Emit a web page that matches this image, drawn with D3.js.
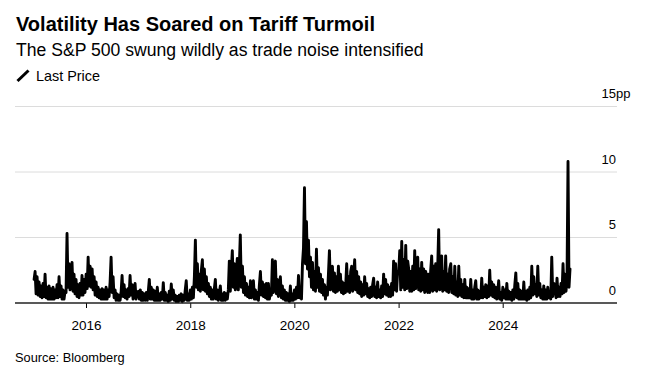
<!DOCTYPE html>
<html>
<head>
<meta charset="utf-8">
<script src="https://cdn.jsdelivr.net/npm/d3@7"></script>
<style>
  html, body { margin: 0; padding: 0; background: #fff; }
  svg { display: block; font-family: "Liberation Sans", Arial, Helvetica, sans-serif; }
</style>
</head>
<body>
<svg id="chart" width="649" height="383"></svg>
<script>
// ---- Data: weekly readings (alternating swings) of S&P 500 volatility, pp ----
const vol2015 = [1.8,2.4,0.7,2.0,0.6,1.6,0.5,1.3,0.4,1.5,0.5,2.2,0.4,1.2,0.3,1.3,0.3,1.1,0.3,1.2,0.3,1.0,0.4,1.4,0.4,2.0,0.5,1.3,0.3,1.0,0.3,0.9,0.8,5.3,1.2,3.0,1.0,2.5,3.1,0.9,2.2,0.7,1.8,0.5,1.4,0.4,1.5,0.6,2.1,0.6,1.8,0.8];
const vol2016 = [2.2,1.1,3.5,1.3,2.8,1.2,2.6,1.0,2.0,0.6,1.6,0.5,1.2,0.4,1.0,0.3,1.1,0.3,1.0,0.3,1.2,0.3,1.0,0.5,1.6,3.5,0.8,2.0,0.4,1.0,0.2,0.7,0.2,0.6,0.2,0.8,2.1,0.5,1.4,0.4,1.0,0.3,1.1,0.5,2.1,0.6,1.4,0.3,1.0,1.5,0.3,0.8];
const vol2017 = [0.9,0.3,1.0,0.2,0.8,0.2,0.7,0.2,0.8,0.2,0.9,1.8,0.3,1.2,0.3,1.0,0.2,0.9,0.2,1.2,0.2,0.7,0.2,0.8,0.3,1.55,0.2,0.8,0.2,0.6,0.1,0.9,0.2,1.45,0.3,1.0,0.2,0.6,0.1,0.5,0.1,0.6,0.2,0.7,0.1,0.6,0.2,1.0,1.7,0.2,0.7,0.2];
const vol2018 = [1.0,0.3,1.2,0.4,2.0,4.8,1.2,3.0,1.0,2.2,0.9,2.5,3.3,1.0,2.6,0.9,2.0,0.7,1.5,0.5,1.2,0.3,1.0,0.3,1.1,1.8,0.3,1.0,0.2,0.8,1.3,0.2,0.7,0.2,0.8,0.2,0.7,0.3,1.0,3.2,0.9,2.5,4.0,1.2,3.0,1.0,2.4,3.4,1.0,2.8,5.2,1.2];
const vol2019 = [2.8,0.8,2.0,0.6,1.5,0.5,1.2,0.4,1.7,0.4,1.2,1.7,0.3,1.0,0.3,0.8,0.2,1.4,2.4,0.6,1.6,0.5,1.4,0.4,1.5,0.3,1.5,0.3,0.8,0.6,3.3,0.8,2.4,3.2,0.7,1.8,0.5,1.2,2.0,0.4,1.3,0.3,1.0,0.2,0.8,0.2,0.7,0.1,1.3,0.2,0.7,0.2];
const vol2020 = [1.0,0.3,1.2,0.4,2.1,0.4,1.0,0.3,3.0,4.2,8.8,3.0,6.2,2.6,4.8,2.0,3.5,1.2,3.1,1.0,2.4,0.9,4.1,1.2,2.7,0.9,2.2,0.8,1.8,0.6,1.4,0.3,1.2,0.6,2.2,4.0,1.0,2.5,2.8,0.9,2.3,0.8,2.0,0.9,2.8,1.0,2.2,0.8,1.6,0.7,1.5,0.8];
const vol2021 = [3.0,0.9,2.0,0.8,2.4,2.8,0.9,2.2,3.3,1.0,2.4,0.8,2.0,0.7,1.6,0.5,1.4,0.6,2.0,0.7,1.5,0.5,1.1,0.4,1.2,0.5,1.4,1.9,0.5,1.2,0.4,1.6,0.5,1.0,0.4,1.3,0.5,2.2,0.7,1.8,0.6,1.4,0.5,1.2,0.5,1.5,0.6,3.2,1.0,3.0,0.9,2.4];
const vol2022 = [2.4,4.0,1.0,4.7,1.2,3.3,1.0,4.4,1.1,3.2,2.6,0.9,2.4,0.9,2.8,1.0,4.0,1.1,3.0,3.5,1.0,2.6,0.9,3.1,1.0,2.6,0.8,2.4,2.0,0.8,2.2,0.8,2.5,3.6,0.9,2.8,1.0,3.0,0.9,2.6,5.6,1.0,3.0,3.6,0.9,2.4,1.0,3.6,0.9,2.2,0.8,2.6];
const vol2023 = [3.0,0.8,2.0,0.7,2.8,0.6,1.6,0.5,2.8,0.6,1.8,0.5,1.4,0.4,1.8,0.4,1.2,0.4,1.1,0.4,1.8,0.3,1.0,0.3,1.2,1.7,0.3,1.0,0.3,0.9,0.4,1.9,0.4,1.2,0.5,1.4,0.4,1.3,0.5,2.5,0.6,1.6,0.5,1.4,0.4,1.2,0.3,0.9,1.7,0.3,0.8,0.2];
const vol2024 = [1.2,0.4,1.0,0.3,1.5,0.3,0.9,0.3,0.8,0.2,1.0,0.3,1.4,2.3,0.4,1.5,0.3,1.0,0.3,0.9,0.3,1.6,0.3,0.9,0.2,1.0,0.3,1.2,0.4,2.8,0.6,2.0,0.7,1.4,0.5,2.8,0.6,1.5,0.4,1.0,0.3,1.3,0.3,1.0,0.3,1.2,0.4,0.9,0.3,3.5,0.5,1.5];
const vol2025 = [1.4,0.4,1.9,0.5,1.2,0.5,1.5,0.7,3.0,0.8,2.2,0.9,1.8,10.8,1.2,2.6];

const yearSeries = [
  [2015, vol2015], [2016, vol2016], [2017, vol2017], [2018, vol2018],
  [2019, vol2019], [2020, vol2020], [2021, vol2021], [2022, vol2022],
  [2023, vol2023], [2024, vol2024], [2025, vol2025]
];
const xTickYears = [2016, 2018, 2020, 2022, 2024];
const yTicks = [0, 5, 10, 15];

const title = "Volatility Has Soared on Tariff Turmoil";
const subtitle = "The S&P 500 swung wildly as trade noise intensified";
const legendLabel = "Last Price";
const source = "Source: Bloomberg";

// ---- Build points ----
const points = [];
yearSeries.forEach(([yr, vals]) => {
  vals.forEach((v, i) => points.push({ date: new Date(yr, 0, 2 + 7 * i), value: v }));
});

// ---- Layout ----
const svg = d3.select("#chart");
const left = 15, right = 617;

const x = d3.scaleTime()
  .domain([new Date(2016, 0, 1), new Date(2024, 0, 1)])
  .range([86, 502.7]);
const y = d3.scaleLinear().domain([0, 15]).range([303, 106.5]);

// Titles
svg.append("text").attr("x", 16).attr("y", 31)
  .attr("font-size", 20).attr("font-weight", "bold").attr("fill", "#000").text(title);
svg.append("text").attr("x", 16).attr("y", 56)
  .attr("font-size", 17.6).attr("fill", "#000").text(subtitle);

// Legend
svg.append("line").attr("x1", 17.5).attr("y1", 81).attr("x2", 28.5).attr("y2", 70.5)
  .attr("stroke", "#000").attr("stroke-width", 3).attr("stroke-linecap", "butt");
svg.append("text").attr("x", 36).attr("y", 81)
  .attr("font-size", 14.4).attr("fill", "#000").text(legendLabel);

// Gridlines
svg.append("g").selectAll("line").data(yTicks.filter(d => d > 0)).join("line")
  .attr("x1", left).attr("x2", right)
  .attr("y1", d => y(d)).attr("y2", d => y(d))
  .attr("stroke", "#dcdcdc").attr("stroke-width", 1);

// Y labels (right side)
svg.append("g").selectAll("text").data(yTicks).join("text")
  .attr("x", 616).attr("y", d => y(d) - 8.5)
  .attr("font-size", 13).attr("fill", "#000").attr("text-anchor", "end")
  .text(d => d);
svg.append("text").attr("x", 616).attr("y", y(15) - 8.5)
  .attr("font-size", 13).attr("fill", "#000").text("pp");

// Line
const line = d3.line().x(d => x(d.date)).y(d => y(d.value)).curve(d3.curveLinear);
svg.append("path").datum(points)
  .attr("d", line)
  .attr("fill", "none").attr("stroke", "#000")
  .attr("stroke-width", 2.9).attr("stroke-linejoin", "round").attr("stroke-linecap", "round");

// X axis
const xAxis = d3.axisBottom(x)
  .tickValues(xTickYears.map(yr => new Date(yr, 0, 1)))
  .tickFormat(d3.timeFormat("%Y"))
  .tickSize(5).tickPadding(12);
const gx = svg.append("g").attr("transform", `translate(0,${y(0)})`).call(xAxis);
gx.select(".domain").remove();
gx.selectAll(".tick line").attr("stroke", "#000").attr("stroke-width", 1);
gx.selectAll(".tick text").attr("font-size", 13.5).attr("fill", "#000")
  .attr("font-family", "\"Liberation Sans\", Arial, sans-serif");
svg.append("line").attr("x1", left).attr("x2", right)
  .attr("y1", y(0)).attr("y2", y(0))
  .attr("stroke", "#222").attr("stroke-width", 1.5);

// Source
svg.append("text").attr("x", 15).attr("y", 362)
  .attr("font-size", 12.8).attr("fill", "#000").text(source);
</script>
</body>
</html>
